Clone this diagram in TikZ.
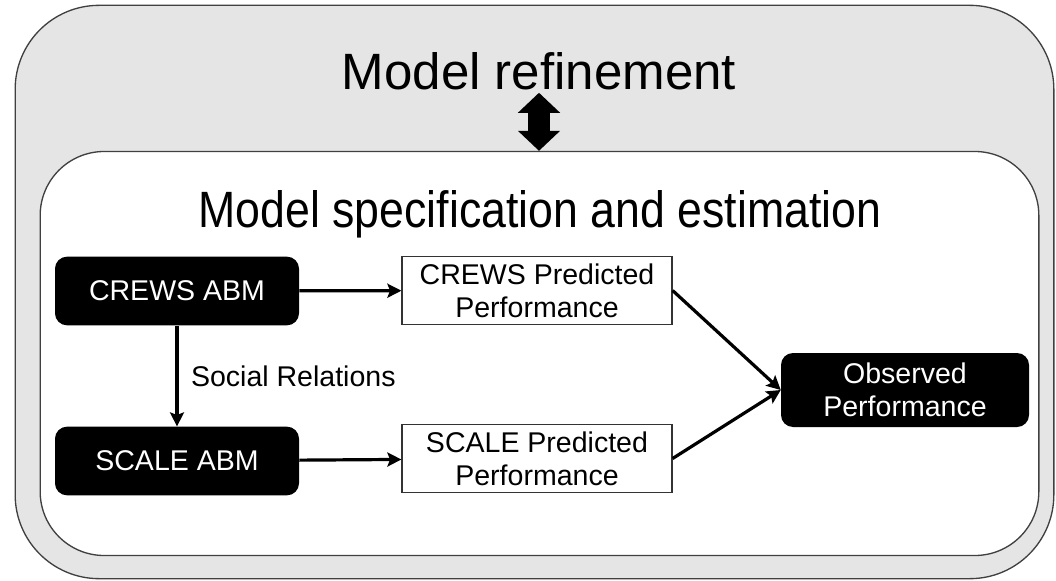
\documentclass[tikz,border=0pt]{standalone}
\usepackage{fontspec}
\setmainfont{Liberation Sans}
\usetikzlibrary{arrows.meta}

\tikzset{
  outerbox/.style={draw=black!75,line width=1pt,fill=black!10,rounded corners=63pt,
    minimum width=779pt,minimum height=430pt,inner sep=0pt},
  innerbox/.style={draw=black!75,line width=1pt,fill=white,rounded corners=48pt,
    minimum width=749pt,minimum height=303pt,inner sep=0pt},
  title/.style={font=\fontsize{38.3}{44}\selectfont,inner sep=1.5pt},
  abm/.style={fill=black,text=white,rounded corners=9pt,align=center,inner sep=0pt,
    minimum width=183pt,minimum height=51.5pt,font=\fontsize{21.4}{24.75}\selectfont},
  pred/.style={draw=black!80,line width=0.9pt,fill=white,align=center,inner sep=0pt,
    minimum width=202.5pt,minimum height=50.5pt,font=\fontsize{21.4}{24.75}\selectfont},
  link/.style={-{Stealth[length=10.5pt,width=10.5pt,inset=2pt]},line width=2.4pt},
  bigarrow/.style={{Triangle[width=30.75pt,length=15pt]}-{Triangle[width=30.75pt,length=15pt]},
    line width=16.5pt}
}

\begin{document}
\begin{tikzpicture}[x=0.75pt,y=-0.75pt]
\useasboundingbox (0,0) rectangle (1056,581);
% the two frames
\node[outerbox] (refinebox) at (534.5,292) {};
\node[innerbox] (specbox) at (539.5,353.5) {};
\node[title,anchor=base] (refine) at (539,90) {Model refinement};
\node[title,anchor=base] (spec) at (540,227)
  {\scalebox{0.875}[1]{Model specification and estimation}};
\draw[bigarrow] (refine.south) -- (refine.south |- specbox.north);
% models and performance
\path
  (177,291) node[abm] (crews) {CREWS ABM}
  ++(0,170) node[abm] (scale) {SCALE ABM}
  (537,290.5) node[pred] (crewspred) {CREWS Predicted\\Performance}
  ++(0,168) node[pred] (scalepred) {SCALE Predicted\\Performance}
  (905,390) node[abm,minimum width=186pt,minimum height=55.5pt] (obs) {Observed\\Performance};
\draw[link] (crews) -- (crewspred);
\draw[link] (scale) -- (scalepred);
\draw[link] (crews) -- node[right=6pt,font=\fontsize{21.4}{24.75}\selectfont] (social) {Social Relations} (scale);
\draw[link] (crewspred.east) -- (obs.west);
\draw[link] (scalepred.east) -- (obs.west);
\end{tikzpicture}
\end{document}
